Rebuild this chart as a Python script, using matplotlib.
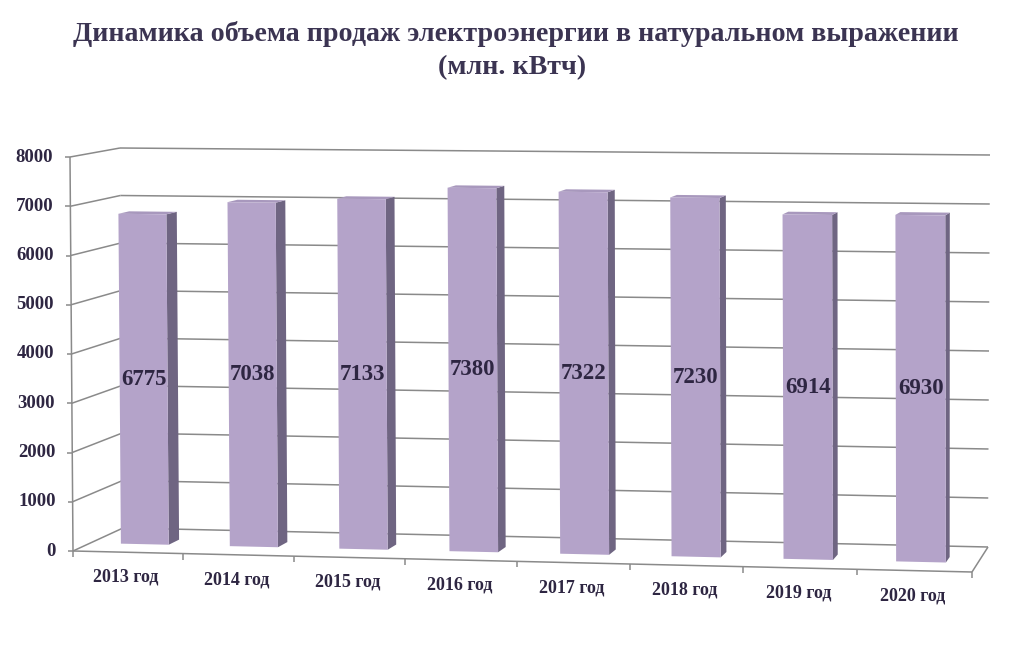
import matplotlib.pyplot as plt
from matplotlib.patches import Polygon

years = ['2013 год', '2014 год', '2015 год', '2016 год',
         '2017 год', '2018 год', '2019 год', '2020 год']
sales = [6775, 7038, 7133, 7380, 7322, 7230, 6914, 6930]
y_ticks = [0, 1000, 2000, 3000, 4000, 5000, 6000, 7000, 8000]
title = ['Динамика объема продаж электроэнергии в натуральном выражении',
         '(млн. кВтч)']

V_MAX = 8000
# screen position of the box corners, keyed by (u, t, w):
# u along the categories, t = value / V_MAX, w = depth (0 front, 1 back)
BOX = {
    (0, 0, 0): (73, 551), (0, 1, 0): (70, 157),
    (0, 0, 1): (123, 528), (0, 1, 1): (120, 148),
    (1, 0, 0): (972, 572), (1, 1, 0): (970, 166),
    (1, 0, 1): (988, 547), (1, 1, 1): (990, 155),
}
PERSP = 1.0225          # spacing grows a bit towards the right
BAR_FRAC = 0.44         # bar width as part of a category
W_FRONT, W_BACK = 0.35, 0.57

FRONT = '#b4a3c9'
SIDE = '#6f6582'
TOP = '#a898bd'
GRID = '#8a8a8a'
TEXT = '#2e2642'
SERIF = ['Liberation Serif', 'DejaVu Serif']


def project(u, v, w):
    u = u / (PERSP - (PERSP - 1) * u)
    t = v / V_MAX
    x = y = 0.
    for (cu, ct, cw), (px, py) in BOX.items():
        k = (u if cu else 1 - u) * (t if ct else 1 - t) * (w if cw else 1 - w)
        x += k * px
        y += k * py
    return x, y


def line(ax, a, b, **kw):
    ax.plot([a[0], b[0]], [a[1], b[1]], color=GRID, lw=1.1,
            solid_capstyle='butt', **kw)


fig = plt.figure(figsize=(10.24, 6.52), dpi=100)
ax = fig.add_axes([0, 0, 1, 1])
ax.set_xlim(0, 1024)
ax.set_ylim(652, 0)
ax.axis('off')

n = len(sales)

# walls and floor
for v in y_ticks:
    line(ax, project(0, v, 1), project(1, v, 1))
    line(ax, project(0, v, 0), project(0, v, 1))
line(ax, project(0, 0, 0), project(1, 0, 0))
line(ax, project(1, 0, 0), project(1, 0, 1))
line(ax, project(0, 0, 0), project(0, V_MAX, 0))

# y axis ticks and labels
for v in y_ticks:
    x, y = project(0, v, 0)
    line(ax, (x - 5, y), (x, y))
    ax.text(x - 17, y, str(v), ha='right', va='center', fontsize=13.5,
            fontweight='bold', color=TEXT, family=SERIF)

# x axis ticks and labels
for k in range(n + 1):
    x, y = project(k / n, 0, 0)
    line(ax, (x, y), (x, y + 6))
for i, lab in enumerate(years):
    x, y = project((i + 0.5) / n, 0, 0)
    ax.text(x - 2, y + 25, lab, ha='center', va='center', fontsize=13,
            fontweight='bold', color=TEXT, family=SERIF)

# bars
half = BAR_FRAC / n / 2
for i, val in enumerate(sales):
    uc = (i + 0.5) / n
    u0, u1 = uc - half, uc + half
    side = [project(u1, 0, W_FRONT), project(u1, 0, W_BACK),
            project(u1, val, W_BACK), project(u1, val, W_FRONT)]
    top = [project(u0, val, W_FRONT), project(u1, val, W_FRONT),
           project(u1, val, W_BACK), project(u0, val, W_BACK)]
    front = [project(u0, 0, W_FRONT), project(u1, 0, W_FRONT),
             project(u1, val, W_FRONT), project(u0, val, W_FRONT)]
    ax.add_patch(Polygon(side, closed=True, fc=SIDE, ec='none', zorder=3))
    ax.add_patch(Polygon(top, closed=True, fc=TOP, ec='none', zorder=3))
    ax.add_patch(Polygon(front, closed=True, fc=FRONT, ec='none', zorder=4))
    x, y = project(uc, val / 2, W_FRONT)
    ax.text(x, y, str(val), ha='center', va='center', fontsize=16.5,
            fontweight='bold', color=TEXT, family=SERIF, zorder=5)

ax.text(516, 34, title[0], ha='center', va='center', fontsize=20.2,
        fontweight='bold', color='#3b3452', family=SERIF)
ax.text(512, 68, title[1], ha='center', va='center', fontsize=20.2,
        fontweight='bold', color='#3b3452', family=SERIF)

fig.savefig('out.png', dpi=100)
